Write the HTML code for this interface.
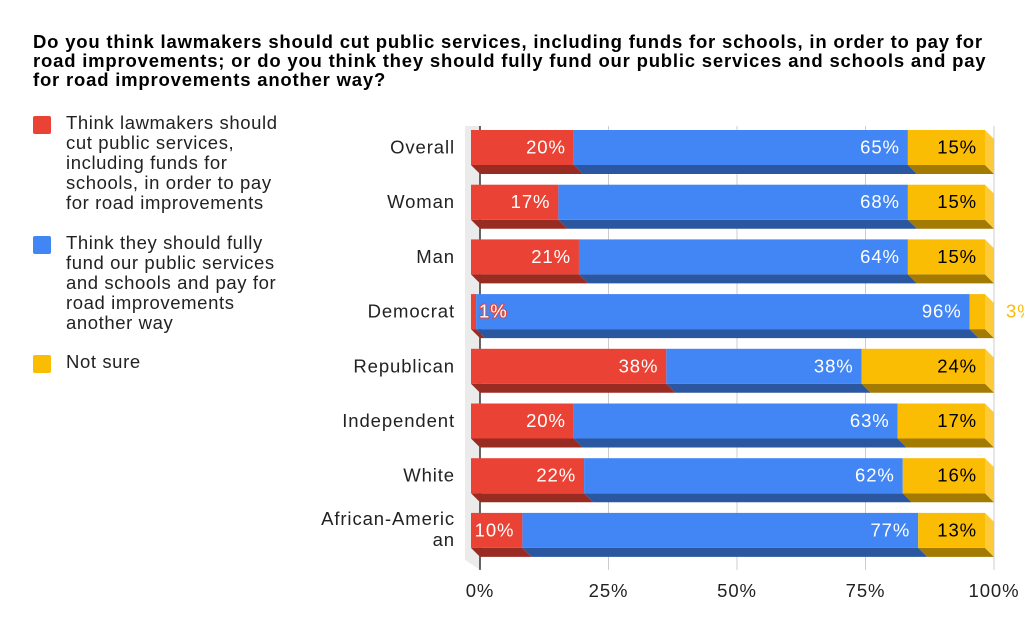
<!DOCTYPE html>
<html><head><meta charset="utf-8"><style>
body{margin:0;background:#fff;width:1024px;height:633px;overflow:hidden;font-family:"Liberation Sans",Arial,sans-serif}
.t{position:absolute;left:33px;top:32px;width:975px;font-weight:bold;font-size:18.5px;letter-spacing:0.8px;line-height:19px;color:#000}
.lg{position:absolute;left:33px;font-size:18.5px;letter-spacing:0.6px;line-height:20px;color:#222}
.sw{position:absolute;left:0;top:3px;width:18px;height:18px;border-radius:2px}
.lt{position:absolute;left:33px;top:0;width:230px}
svg text{letter-spacing:0.9px}
</style></head><body>
<div class="t">Do you think lawmakers should cut public services, including funds for schools, in order to pay for road improvements; or do you think they should fully fund our public services and schools and pay for road improvements another way?</div>
<div class="lg" style="top:113px"><div class="sw" style="background:#ea4335"></div><div class="lt">Think lawmakers should cut public services, including funds for schools, in order to pay for road improvements</div></div>
<div class="lg" style="top:233px"><div class="sw" style="background:#4285f4"></div><div class="lt">Think they should fully fund our public services and schools and pay for road improvements another way</div></div>
<div class="lg" style="top:352px"><div class="sw" style="background:#fbbc04"></div><div class="lt">Not sure</div></div>
<svg id="c" width="1024" height="633" style="position:absolute;left:0;top:0"></svg>
<script>
const categories=["Overall","Woman","Man","Democrat","Republican","Independent","White","African-American"];
const cutVals=[20,17,21,1,38,20,22,10];
const fundVals=[65,68,64,96,38,63,62,77];
const notSureVals=[15,15,15,3,24,17,16,13];
const ticks=[0,25,50,75,100];
const svg=document.getElementById('c');
const NS='http://www.w3.org/2000/svg';
const X0=471,W=514,DX=9,DY=9,TOP=130,PITCH=54.7,BH=35;
const x=v=>X0+v/100*W;
function el(t,a,p){const e=document.createElementNS(NS,t);for(const k in a)e.setAttribute(k,a[k]);(p||svg).appendChild(e);return e;}
const bottom=TOP+(categories.length-1)*PITCH+BH+DY+13;
const wall=el('polygon',{points:`${X0-6},${TOP-4} ${X0+DX},${TOP-4} ${X0+DX},${bottom} ${X0-6},${bottom-10}`,fill:'#ebebeb'});


ticks.forEach(t=>{
 const g=el('line',{x1:x(t)+DX,x2:x(t)+DX,y1:TOP-4,y2:bottom,stroke:t===0?'#333':'#ccc','stroke-width':t===0?1.5:1});
 
 
 const l=el('text',{x:x(t)+DX,y:597,'text-anchor':'middle','font-size':18.5,fill:'#222'});
 l.textContent=t+'%';
 
 
});
const colors=[['#ea4335','#982b22','#fff'],['#4285f4','#2b56a0','#fff'],['#fbbc04','#a37a02','#000']];
const sideCol='#fdca3a';
categories.forEach((c,i)=>{
 const y=TOP+i*PITCH;
 const vals=[cutVals[i],fundVals[i],notSureVals[i]];
 let acc=0;
 const segs=[];
 vals.forEach((v,s)=>{
  const a=x(acc),b=x(acc+v);acc+=v;
  const bot=el('polygon',{points:`${a},${y+BH} ${b},${y+BH} ${b+DX},${y+BH+DY} ${a+DX},${y+BH+DY}`,fill:colors[s][1]});
  
  
  segs.push([a,b,v,s]);
 });
 const end=x(acc);
 const side=el('polygon',{points:`${end},${y} ${end+DX},${y+DY} ${end+DX},${y+BH+DY} ${end},${y+BH}`,fill:sideCol});
 
 
 segs.forEach(([a,b,v,s])=>{
  const r=el('rect',{x:a,y:y,width:Math.max(b-a,0.5),height:BH,fill:colors[s][0]});
  
  
 });
 segs.forEach(([a,b,v,s])=>{
  let tx=b-8,anchor='end',fill=colors[s][2],stroke=null;
  if(b-a<40){ if(s===2){tx=end+DX+12;anchor='start';fill='#fbbc04';} else {tx=a+8;anchor='start';stroke='#ea4335';} }
  const t=el('text',{x:tx,y:y+BH/2+6,'text-anchor':anchor,'font-size':18.5,fill:fill});
  if(stroke){t.setAttribute('stroke',stroke);t.setAttribute('stroke-width','2');t.setAttribute('paint-order','stroke');}
  t.textContent=v+'%';
  
  
 });
 const lab=el('text',{x:455,'text-anchor':'end','font-size':18.5,fill:'#222'});
 
 
 if(c.length>14){
  const p1=c.slice(0,14),p2=c.slice(14);
  const s1=el('tspan',{x:455,y:y+12},lab);s1.textContent=p1;
  const s2=el('tspan',{x:455,y:y+33},lab);s2.textContent=p2;
 } else {lab.setAttribute('y',y+BH/2+6);lab.textContent=c;}
});
</script>
</body></html>
